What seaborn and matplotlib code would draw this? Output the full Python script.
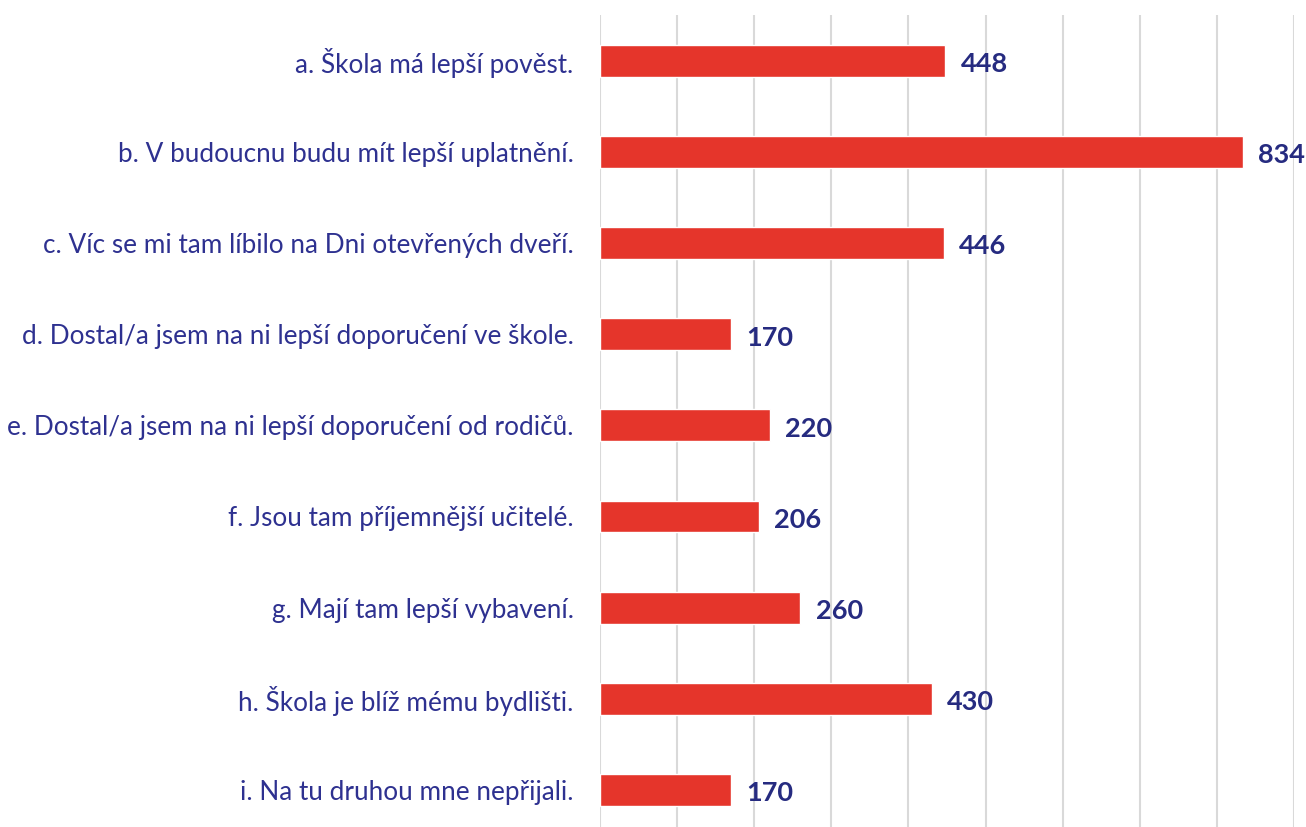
import matplotlib
matplotlib.use("Agg")
import matplotlib.pyplot as plt
import seaborn as sns
import pandas as pd

categories = [
    "a. Škola má lepší pověst.",
    "b. V budoucnu budu mít lepší uplatnění.",
    "c. Víc se mi tam líbilo na Dni otevřených dveří.",
    "d. Dostal/a jsem na ni lepší doporučení ve škole.",
    "e. Dostal/a jsem na ni lepší doporučení od rodičů.",
    "f. Jsou tam příjemnější učitelé.",
    "g. Mají tam lepší vybavení.",
    "h. Škola je blíž mému bydlišti.",
    "i. Na tu druhou mne nepřijali.",
]
values = [448, 834, 446, 170, 220, 206, 260, 430, 170]

BAR_COLOR = "#E5352B"
LABEL_COLOR = "#2E3190"
VALUE_COLOR = "#262B80"

sns.set_theme(style="white")
plt.rcParams["font.family"] = ["Lato", "DejaVu Sans"]

df = pd.DataFrame({"category": categories, "value": values})

fig = plt.figure(figsize=(13.06, 8.27), dpi=100)
ax = fig.add_axes([600 / 1306, 0.0, (1294 - 600) / 1306, (827 - 15) / 827])

sns.barplot(data=df, y="category", x="value", orient="h", color=BAR_COLOR,
            width=0.35, saturation=1, ax=ax)

ax.set_xlim(0, 900)
ax.set_ylim(8.406, -0.5)
ax.set_xticks(range(0, 901, 100))
ax.xaxis.grid(True, color="#D9D9D9", linewidth=1.5)
ax.yaxis.grid(False)
ax.set_axisbelow(True)
ax.set_xticklabels([])
ax.tick_params(axis="x", length=0)
ax.tick_params(axis="y", length=0, pad=19, labelsize=18.8, labelcolor=LABEL_COLOR)
ax.set_xlabel("")
ax.set_ylabel("")
for s in ax.spines.values():
    s.set_visible(False)

texts = ax.bar_label(ax.containers[0], labels=[str(v) for v in values], padding=11,
                     fontsize=19.5, color=VALUE_COLOR, fontweight="bold", clip_on=False)
for t in texts:
    t.set_va("center")
    t.xyann = (11, -2.5)

fig.savefig("out.png", dpi=100)
